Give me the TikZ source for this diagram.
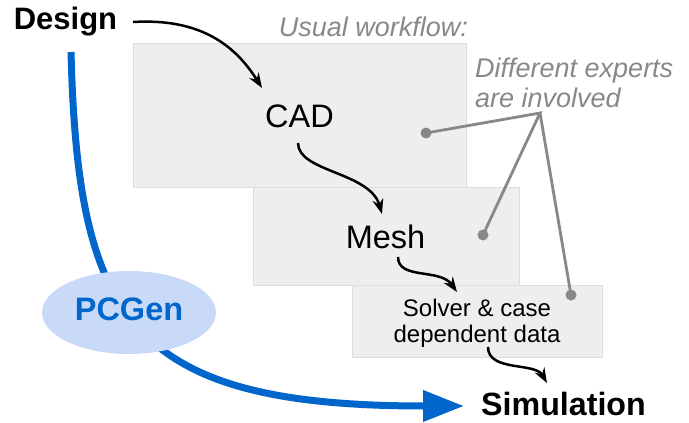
\documentclass[tikz,border=0pt]{standalone}
\usepackage{fontspec}
\setmainfont{Liberation Sans}
\usetikzlibrary{arrows.meta,shapes.geometric}
\definecolor{boxgray}{HTML}{EEEEEE}
\definecolor{boxedge}{HTML}{DDDDDD}
\definecolor{notegray}{HTML}{888888}
\definecolor{pcblue}{HTML}{0066CC}
\definecolor{pclight}{HTML}{C9DAF8}

\tikzset{
    panel/.style={draw=boxedge, fill=boxgray, line width=1pt, inner sep=0pt},
    label/.style={inner sep=0pt, anchor=base},
    big/.style={font=\fontsize{32.5}{38}\selectfont},
    flow/.style={line width=2.5pt, -{Stealth[length=15pt,width=11pt]}},
    expert/.style={draw=notegray, line width=2.8pt},
    dot/.style={circle, fill=notegray, inner sep=0pt, minimum size=11pt},
}

\begin{document}
\begin{tikzpicture}[x=1pt,y=-1pt]
    \useasboundingbox (0,0) rectangle (689,423);
    % workflow panels
    \node[panel, minimum width=333pt, minimum height=144pt] (cadbox) at (299.5,115) {};
    \node[panel, minimum width=266pt, minimum height=98pt] (meshbox) at (386,236) {};
    \node[panel, minimum width=250pt, minimum height=72pt] (solverbox) at (477,321) {};

    \node[label, font=\fontsize{31}{36}\selectfont\bfseries] (design) at (65.5,30) {Design};
    \node[label, big] (cad) at (299.5,127) {CAD};
    \node[label, big] (mesh) at (385.5,248) {Mesh};
    \node[inner sep=0pt, align=center, font=\fontsize{24}{26}\selectfont] (solver) at (477,323.5) {Solver \& case\\dependent data};
    \node[label, font=\fontsize{32.2}{38}\selectfont\bfseries] (simulation) at (563.5,415) {Simulation};
    \node[label, text=notegray, font=\fontsize{27}{31}\selectfont\itshape] (usual) at (373.5,36) {Usual workflow:};
    \node[inner sep=0pt, anchor=north west, align=left, text=notegray,
          font=\fontsize{27}{30}\selectfont\itshape] (experts) at (475,58) {Different experts\\are involved};

    % PCGen shortcut
    \coordinate (pcstart) at (71,52);
    \coordinate (pcend) at (464,406);
    \draw[pcblue, line width=7pt, -{Triangle[length=41pt,width=30pt]}]
        (pcstart) .. controls (78,320) and (130,406) .. (pcend);
    \node[ellipse, fill=pclight, minimum width=174pt, minimum height=83pt] (pcgenbg) at (129,312.5) {};
    \node[label, text=pcblue, font=\fontsize{32.5}{38}\selectfont\bfseries] (pcgen) at (129,320.5) {PCGen};

    % usual flow
    \coordinate (d0) at (133,22);
    \coordinate (c1) at (262,88);
    \coordinate (c0) at (298,143);
    \coordinate (m1) at (382,214);
    \coordinate (m0) at (398,257);
    \coordinate (s1) at (457,292);
    \coordinate (s0) at (488,347);
    \coordinate (r1) at (547,383);
    \draw[flow] (d0) .. controls (200,18) and (235,45) .. (c1);
    \draw[flow] (c0) .. controls (298,172) and (370,172) .. (m1);
    \draw[flow] (m0) .. controls (398,280) and (440,268) .. (s1);
    \draw[flow] (s0) .. controls (488,372) and (535,362) .. (r1);

    % experts
    \coordinate (hub) at (540,113);
    \node[dot] (cadexp) at (426,133) {};
    \node[dot] (meshexp) at (483,235) {};
    \node[dot] (solverexp) at (571,295) {};
    \draw[expert] (cadexp.center) -- (hub) -- (meshexp.center);
    \draw[expert] (hub) -- (solverexp.center);
\end{tikzpicture}
\end{document}
